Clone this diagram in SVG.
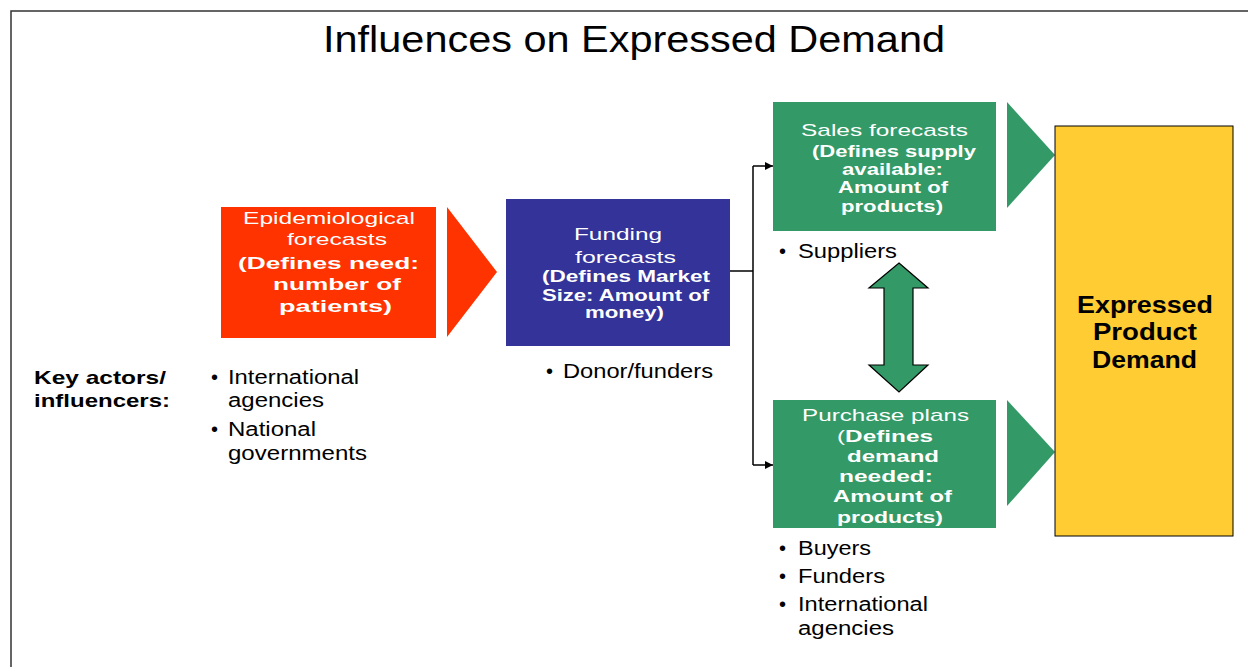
<svg xmlns="http://www.w3.org/2000/svg" width="1248" height="667" viewBox="0 0 1248 667">
<defs>
<style>
text{font-family:"Liberation Sans",Arial,sans-serif;}
.t{font-size:20px;fill:#000;}
.kb{font-size:19px;font-weight:bold;fill:#000;}
.wn{font-size:17px;fill:#fff;}
.wb{font-size:17px;font-weight:bold;fill:#fff;}
.yb{font-size:23px;font-weight:bold;fill:#000;}
.conn{fill:none;stroke:#000;stroke-width:1.5;}
</style>
<marker id="ah" viewBox="0 0 10 10" refX="10" refY="5" markerWidth="8" markerHeight="8" markerUnits="userSpaceOnUse" orient="auto">
<path d="M0,0 L10,5 L0,10 z" fill="#000"/>
</marker>
</defs>
<rect width="1248" height="667" fill="#fff"/>
<path d="M11,667 L11,11 L1248,11" fill="none" stroke="#333" stroke-width="1.5"/>
<text x="323" y="52" font-size="37" textLength="622" lengthAdjust="spacingAndGlyphs">Influences on Expressed Demand</text>

<g id="epidemiological">
<rect x="221" y="207" width="215" height="131" fill="#FF3300"/>
<text class="wn" x="243" y="224" textLength="172" lengthAdjust="spacingAndGlyphs">Epidemiological</text>
<text class="wn" x="287" y="245" textLength="100" lengthAdjust="spacingAndGlyphs">forecasts</text>
<text class="wb" x="238" y="269" textLength="181" lengthAdjust="spacingAndGlyphs">(Defines need:</text>
<text class="wb" x="273" y="290" textLength="128" lengthAdjust="spacingAndGlyphs">number of</text>
<text class="wb" x="279" y="312" textLength="113" lengthAdjust="spacingAndGlyphs">patients)</text>
</g>
<g id="arrow-orange"><polygon points="447,207 497,272 447,337" fill="#FF3300"/></g>

<g id="funding">
<rect x="506" y="199" width="224" height="147" fill="#333399"/>
<text class="wn" x="574" y="240" textLength="88" lengthAdjust="spacingAndGlyphs">Funding</text>
<text class="wn" x="575" y="263" textLength="101" lengthAdjust="spacingAndGlyphs">forecasts</text>
<text class="wb" x="542" y="282" textLength="168" lengthAdjust="spacingAndGlyphs">(Defines Market</text>
<text class="wb" x="542" y="301" textLength="167" lengthAdjust="spacingAndGlyphs">Size: Amount of</text>
<text class="wb" x="585" y="318" textLength="79" lengthAdjust="spacingAndGlyphs">money)</text>
</g>

<g id="sales">
<rect x="773" y="102" width="223" height="129" fill="#339966"/>
<text class="wn" x="801" y="136" textLength="167" lengthAdjust="spacingAndGlyphs">Sales forecasts</text>
<text class="wb" x="812" y="157" textLength="164" lengthAdjust="spacingAndGlyphs">(Defines supply</text>
<text class="wb" x="842" y="175" textLength="101" lengthAdjust="spacingAndGlyphs">available:</text>
<text class="wb" x="838" y="193" textLength="110" lengthAdjust="spacingAndGlyphs">Amount of</text>
<text class="wb" x="841" y="212" textLength="102" lengthAdjust="spacingAndGlyphs">products)</text>
</g>
<g id="arrow-green-top"><polygon points="1007,102 1055,155 1007,208" fill="#339966"/></g>

<g id="purchase">
<rect x="773" y="400" width="223" height="128" fill="#339966"/>
<text class="wn" x="802" y="421" textLength="167" lengthAdjust="spacingAndGlyphs">Purchase plans</text>
<text class="wb" x="837" y="442" textLength="96" lengthAdjust="spacingAndGlyphs"><tspan font-weight="normal">(</tspan>Defines</text>
<text class="wb" x="847" y="462" textLength="92" lengthAdjust="spacingAndGlyphs">demand</text>
<text class="wb" x="839" y="482" textLength="94" lengthAdjust="spacingAndGlyphs">needed:</text>
<text class="wb" x="833" y="502" textLength="119" lengthAdjust="spacingAndGlyphs">Amount of</text>
<text class="wb" x="837" y="523" textLength="106" lengthAdjust="spacingAndGlyphs">products)</text>
</g>
<g id="arrow-green-bottom"><polygon points="1007,400 1055,452 1007,506" fill="#339966"/></g>

<g id="expressed">
<rect x="1055" y="126" width="178" height="410" fill="#FFCC33" stroke="#000" stroke-width="1"/>
<text class="yb" x="1077" y="313" textLength="136" lengthAdjust="spacingAndGlyphs">Expressed</text>
<text class="yb" x="1093" y="340" textLength="104" lengthAdjust="spacingAndGlyphs">Product</text>
<text class="yb" x="1092" y="368" textLength="105" lengthAdjust="spacingAndGlyphs">Demand</text>
</g>

<g id="double-arrow">
<polygon points="899,263 928,288 913,288 913,365 928,365 899,392 869,365 884,365 884,288 869,288" fill="#339966" stroke="#000" stroke-width="1.2" stroke-linejoin="miter"/>
</g>

<g id="connectors">
<path class="conn" d="M730,271 L753,271"/>
<path class="conn" d="M753,166 L753,465"/>
<path class="conn" d="M753,166 L773,166" marker-end="url(#ah)"/>
<path class="conn" d="M753,465 L773,465" marker-end="url(#ah)"/>
</g>

<g id="key-actors">
<text class="kb" x="34" y="384" textLength="132" lengthAdjust="spacingAndGlyphs">Key actors/</text>
<text class="kb" x="34" y="407" textLength="136" lengthAdjust="spacingAndGlyphs">influencers:</text>
</g>
<g id="epi-actors">
<text class="t" x="211" y="384">•</text>
<text class="t" x="228" y="384" textLength="131" lengthAdjust="spacingAndGlyphs">International</text>
<text class="t" x="228" y="407" textLength="96" lengthAdjust="spacingAndGlyphs">agencies</text>
<text class="t" x="211" y="436">•</text>
<text class="t" x="228" y="436" textLength="88" lengthAdjust="spacingAndGlyphs">National</text>
<text class="t" x="228" y="460" textLength="139" lengthAdjust="spacingAndGlyphs">governments</text>
</g>
<g id="funding-actors">
<text class="t" x="546" y="378">•</text>
<text class="t" x="563" y="378" textLength="150" lengthAdjust="spacingAndGlyphs">Donor/funders</text>
</g>
<g id="sales-actors">
<text class="t" x="779" y="258">•</text>
<text class="t" x="798" y="258" textLength="99" lengthAdjust="spacingAndGlyphs">Suppliers</text>
</g>
<g id="purchase-actors">
<text class="t" x="779" y="555">•</text>
<text class="t" x="798" y="555" textLength="73" lengthAdjust="spacingAndGlyphs">Buyers</text>
<text class="t" x="779" y="583">•</text>
<text class="t" x="798" y="583" textLength="87" lengthAdjust="spacingAndGlyphs">Funders</text>
<text class="t" x="779" y="611">•</text>
<text class="t" x="798" y="611" textLength="130" lengthAdjust="spacingAndGlyphs">International</text>
<text class="t" x="798" y="635" textLength="96" lengthAdjust="spacingAndGlyphs">agencies</text>
</g>
</svg>
